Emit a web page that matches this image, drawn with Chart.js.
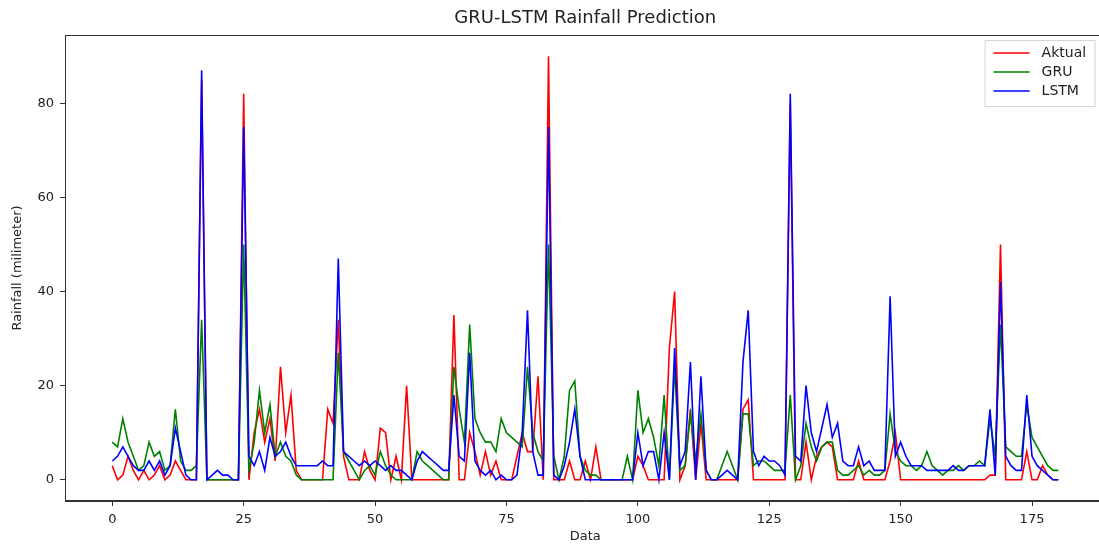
<!DOCTYPE html>
<html>
<head>
<meta charset="utf-8">
<script src="https://cdn.jsdelivr.net/npm/chart.js@4.4.1/dist/chart.umd.min.js"></script>
<style>
  html, body { margin: 0; padding: 0; background: #fff; overflow: hidden; }
  #wrap { width: 1099px; height: 544px; overflow: hidden; }
</style>
</head>
<body>
<div id="wrap"><canvas id="chart" width="1110" height="544"></canvas></div>
<script>
// Índice de datos (0..180)
const indices = Array.from({length: 181}, (_, i) => i);

const aktual = [
  3, 0, 1, 5, 2, 0, 2, 0, 1, 3, 0, 1, 4, 2, 0, 0, 0, 85, 0, 0,
  0, 0, 0, 0, 0, 82, 0, 10, 15, 8, 13, 4, 24, 10, 18, 2, 0, 0, 0, 0,
  0, 15, 12, 34, 5, 0, 0, 0, 6, 2, 0, 11, 10, 0, 5, 0, 20, 0, 0, 0,
  0, 0, 0, 0, 0, 35, 0, 0, 10, 6, 1, 6, 1, 4, 0, 0, 0, 5, 10, 6,
  6, 22, 0, 90, 0, 0, 0, 4, 0, 0, 4, 0, 7, 0, 0, 0, 0, 0, 0, 0,
  5, 3, 0, 0, 0, 0, 28, 40, 0, 3, 15, 0, 12, 0, 0, 0, 0, 0, 0, 0,
  15, 17, 0, 0, 0, 0, 0, 0, 0, 80, 0, 0, 8, 0, 5, 7, 8, 7, 0, 0,
  0, 0, 4, 0, 0, 0, 0, 0, 4, 10, 0, 0, 0, 0, 0, 0, 0, 0, 0, 0,
  0, 0, 0, 0, 0, 0, 0, 1, 1, 50, 0, 0, 0, 0, 6, 0, 0, 3, 1, 0,
  0
];

const gru = [
  8, 7, 13, 8, 5, 2, 3, 8, 5, 6, 2, 3, 15, 4, 2, 2, 3, 34, 0, 0,
  0, 0, 0, 0, 0, 50, 2, 8, 19, 10, 16, 5, 8, 5, 4, 1, 0, 0, 0, 0,
  0, 0, 0, 27, 6, 4, 2, 0, 2, 3, 1, 6, 3, 1, 0, 0, 0, 0, 6, 4,
  3, 2, 1, 0, 0, 24, 15, 8, 33, 13, 10, 8, 8, 6, 13, 10, 9, 8, 7, 24,
  10, 6, 4, 50, 5, 0, 5, 19, 21, 5, 2, 1, 1, 0, 0, 0, 0, 0, 5, 0,
  19, 10, 13, 9, 3, 18, 0, 24, 2, 3, 14, 4, 14, 2, 0, 0, 3, 6, 3, 0,
  14, 14, 3, 4, 4, 3, 2, 2, 2, 18, 0, 3, 12, 7, 4, 7, 8, 8, 2, 1,
  1, 2, 3, 1, 2, 1, 1, 2, 14, 6, 4, 3, 3, 2, 3, 6, 3, 2, 1, 2,
  2, 3, 2, 3, 3, 4, 3, 13, 5, 33, 7, 6, 5, 5, 16, 9, 7, 5, 3, 2,
  2
];

const lstm = [
  4, 5, 7, 5, 3, 2, 2, 4, 2, 4, 1, 3, 11, 6, 1, 0, 0, 87, 0, 1,
  2, 1, 1, 0, 0, 75, 5, 3, 6, 2, 9, 5, 6, 8, 5, 3, 3, 3, 3, 3,
  4, 3, 3, 47, 6, 5, 4, 3, 4, 3, 4, 3, 2, 3, 2, 2, 1, 0, 4, 6,
  5, 4, 3, 2, 2, 18, 5, 4, 27, 4, 2, 1, 2, 0, 1, 0, 0, 1, 10, 36,
  6, 1, 1, 75, 1, 0, 3, 8, 15, 5, 0, 0, 0, 0, 0, 0, 0, 0, 0, 0,
  10, 3, 6, 6, 0, 10, 0, 28, 3, 6, 25, 0, 22, 2, 0, 0, 1, 2, 1, 0,
  25, 36, 6, 3, 5, 4, 4, 3, 1, 82, 5, 4, 20, 10, 6, 11, 16, 9, 12, 4,
  3, 3, 7, 3, 4, 2, 2, 2, 39, 5, 8, 5, 3, 3, 3, 2, 2, 2, 2, 2,
  3, 2, 2, 3, 3, 3, 3, 15, 1, 42, 5, 3, 2, 2, 18, 5, 3, 2, 1, 0,
  0
];

const xTicks = [0, 25, 50, 75, 100, 125, 150, 175];
const yTicks = [0, 20, 40, 60, 80];
const chartTitle = 'GRU-LSTM Rainfall Prediction';

const toPoints = (arr) => indices.map((x, i) => ({x: x, y: arr[i]}));

// Marco, título centrado sobre los ejes y leyenda dentro del área
const framePlugin = {
  id: 'frame',
  afterDraw(chart) {
    const {ctx, chartArea: a} = chart;
    ctx.save();
    ctx.strokeStyle = '#333';
    ctx.lineWidth = 1;
    ctx.strokeRect(a.left + 0.5, a.top + 0.5, a.right - a.left - 1, a.bottom - a.top - 1);

    ctx.fillStyle = '#222';
    ctx.font = '18px "DejaVu Sans"';
    ctx.textAlign = 'center';
    ctx.textBaseline = 'middle';
    ctx.fillText(chartTitle, (a.left + a.right) / 2, 18);

    // leyenda
    const bx = a.right - 121, by = a.top + 5, bw = 110, bh = 66;
    ctx.fillStyle = 'rgba(255,255,255,0.8)';
    ctx.strokeStyle = '#d6d6d6';
    ctx.beginPath();
    ctx.rect(bx + 0.5, by + 0.5, bw, bh);
    ctx.fill();
    ctx.stroke();
    ctx.font = '14px "DejaVu Sans"';
    ctx.textAlign = 'left';
    chart.data.datasets.forEach((ds, i) => {
      const y = by + 13 + i * 19;
      ctx.strokeStyle = ds.borderColor;
      ctx.lineWidth = 1.5;
      ctx.beginPath();
      ctx.moveTo(bx + 9, y);
      ctx.lineTo(bx + 45, y);
      ctx.stroke();
      ctx.fillStyle = '#222';
      ctx.fillText(ds.label, bx + 57, y);
    });
    ctx.restore();
  }
};

new Chart(document.getElementById('chart').getContext('2d'), {
  type: 'line',
  data: {
    datasets: [
      { label: 'Aktual', data: toPoints(aktual), borderColor: '#ff0000', order: 2 },
      { label: 'GRU', data: toPoints(gru), borderColor: '#008000', order: 1 },
      { label: 'LSTM', data: toPoints(lstm), borderColor: '#0000ff', order: 0 }
    ]
  },
  options: {
    responsive: false,
    animation: false,
    layout: { padding: { left: 0, right: 4.4, top: 35, bottom: 0 } },
    elements: {
      point: { radius: 0 },
      line: { borderWidth: 1.6, tension: 0 }
    },
    plugins: {
      legend: { display: false },
      tooltip: { enabled: false },
      title: { display: false }
    },
    scales: {
      x: {
        type: 'linear',
        min: -9,
        max: 189,
        afterBuildTicks: (s) => { s.ticks = xTicks.map(v => ({value: v})); },
        afterFit: (s) => { s.height = 43; },
        grid: { drawOnChartArea: false, tickLength: 5, tickColor: '#333' },
        border: { color: '#333' },
        ticks: { color: '#222', font: { family: 'DejaVu Sans', size: 13 }, padding: 6, maxRotation: 0 },
        title: { display: true, text: 'Data', color: '#222', font: { family: 'DejaVu Sans', size: 13 }, padding: { top: 0, bottom: 0 } }
      },
      y: {
        min: -4.5,
        max: 94.5,
        afterBuildTicks: (s) => { s.ticks = yTicks.map(v => ({value: v})); },
        afterFit: (s) => { s.width = 65; },
        grid: { drawOnChartArea: false, tickLength: 5, tickColor: '#333' },
        border: { color: '#333' },
        ticks: { color: '#222', font: { family: 'DejaVu Sans', size: 13 }, padding: 6 },
        title: { display: true, text: 'Rainfall (milimeter)', color: '#222', font: { family: 'DejaVu Sans', size: 13 }, padding: { top: 10, bottom: 0 } }
      }
    }
  },
  plugins: [framePlugin]
});
</script>
</body>
</html>
